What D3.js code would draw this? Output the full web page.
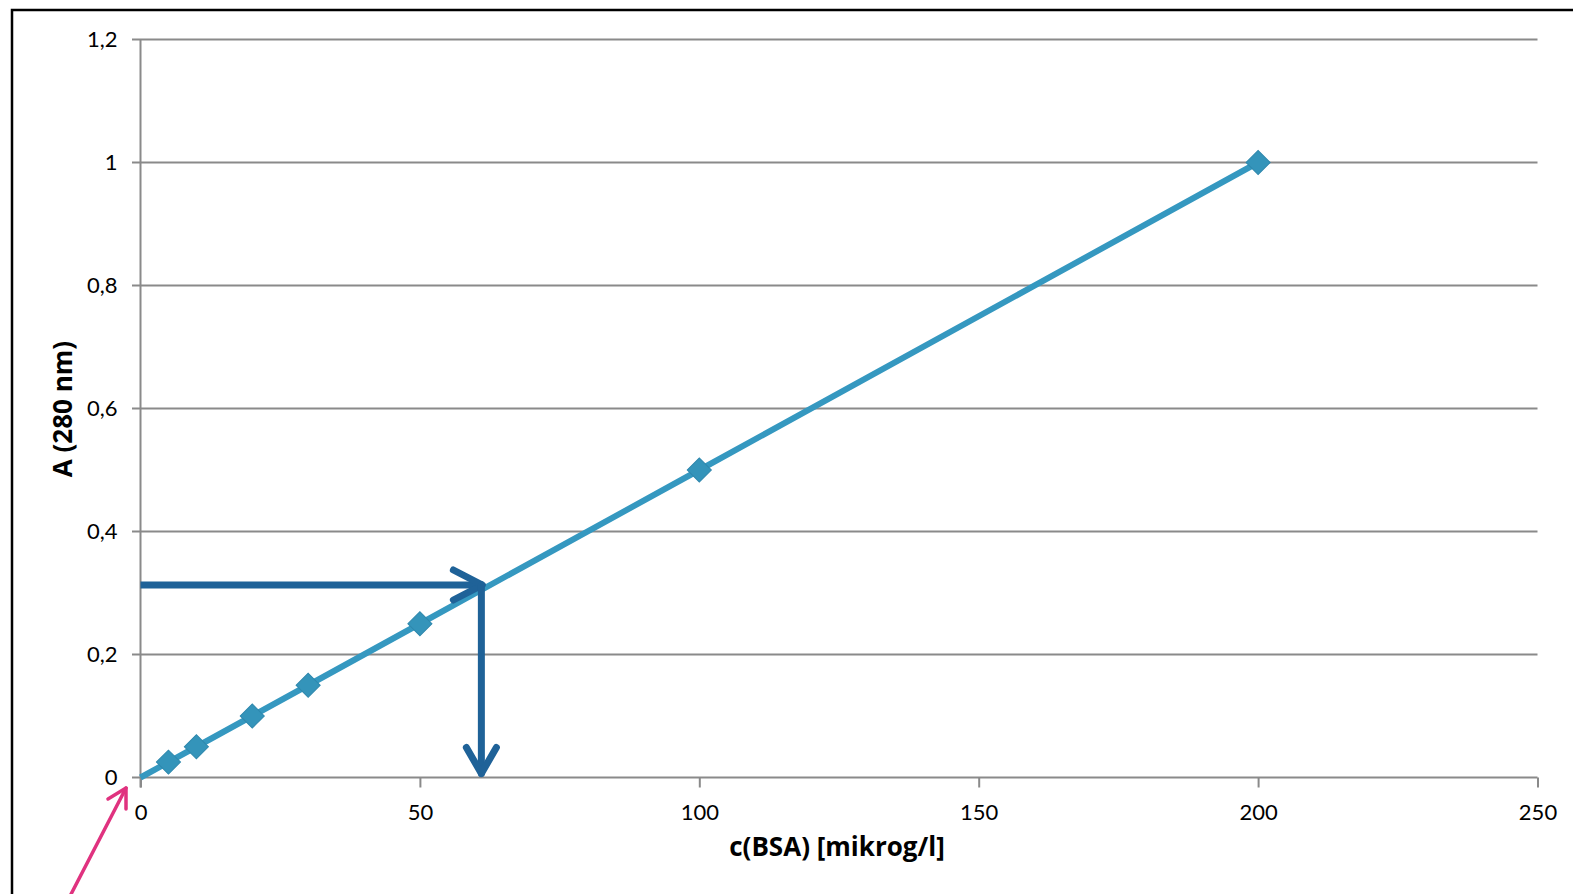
<!DOCTYPE html>
<html><head><meta charset="utf-8">
<script src="https://cdn.jsdelivr.net/npm/d3@7"></script>
<style>
html,body{margin:0;padding:0;background:#fff;overflow:hidden}
svg{display:block}
</style></head>
<body>
<svg id="chart" width="1573" height="894"></svg>
<script>
// Data
const concentrations = [0, 5, 10, 20, 30, 50, 100, 200];
const absorbances = [0, 0.025, 0.05, 0.1, 0.15, 0.25, 0.5, 1.0];
const xTicks = [0, 50, 100, 150, 200, 250];
const yTicks = [0, 0.2, 0.4, 0.6, 0.8, 1.0, 1.2];
const yTickLabels = ["0", "0,2", "0,4", "0,6", "0,8", "1", "1,2"];
const readAbsorbance = [0.313];
const readConcentration = [61];

const svg = d3.select("#chart");
const x = d3.scaleLinear().domain([0, 250]).range([140.5, 1537.5]);
const y = d3.scaleLinear().domain([0, 1.2]).range([777.5, 39.5]);

const grey = "#8a8a8a";
const tickFont = "Lato, 'Open Sans', sans-serif";
const titleFont = "'Open Sans', Lato, sans-serif";

// Frame
svg.append("rect").attr("x", 12).attr("y", 10).attr("width", 1600).attr("height", 900)
  .attr("fill", "none").attr("stroke", "#000").attr("stroke-width", 2.5);

// Gridlines (y)
svg.append("g").selectAll("line").data(yTicks).join("line")
  .attr("x1", 132).attr("x2", x(250))
  .attr("y1", d => y(d)).attr("y2", d => y(d))
  .attr("stroke", grey).attr("stroke-width", 2);

// Y axis line
svg.append("line").attr("x1", x(0)).attr("x2", x(0)).attr("y1", y(1.2)).attr("y2", y(0) + 10)
  .attr("stroke", grey).attr("stroke-width", 2);

// X axis ticks
const xAxis = d3.axisBottom(x).tickValues(xTicks).tickSize(10).tickSizeOuter(0).tickFormat(d3.format("d"));
const gx = svg.append("g").attr("transform", `translate(0,${y(0)})`).call(xAxis);
gx.select(".domain").remove();
gx.selectAll(".tick line").attr("stroke", grey).attr("stroke-width", 2);
gx.selectAll(".tick text").attr("fill", "#000").attr("font-family", tickFont)
  .attr("font-size", 22).attr("dy", null).attr("y", 42);

// Y axis labels
const yAxis = d3.axisLeft(y).tickValues(yTicks).tickSize(0).tickFormat((d, i) => yTickLabels[i]);
const gy = svg.append("g").attr("transform", `translate(${x(0)},0)`).call(yAxis);
gy.select(".domain").remove();
gy.selectAll(".tick text").attr("fill", "#000").attr("font-family", tickFont)
  .attr("font-size", 22).attr("x", -23).attr("dy", "0.32em");

// Series line
const lineColor = "#3598c0";
svg.append("path").datum(concentrations.map((c, i) => [c, absorbances[i]]))
  .attr("d", d3.line().x(d => x(d[0])).y(d => y(d[1])))
  .attr("fill", "none").attr("stroke", lineColor).attr("stroke-width", 6).attr("stroke-linejoin", "round");

// Markers (diamonds)
svg.append("g").selectAll("path").data(concentrations.map((c, i) => [c, absorbances[i]]).filter(d => d[0] > 0))
  .join("path")
  .attr("d", d3.symbol().type(d3.symbolSquare).size(290))
  .attr("transform", d => `translate(${x(d[0])},${y(d[1])}) rotate(45)`)
  .attr("fill", "#3494ba").attr("stroke", "#2f88ad").attr("stroke-width", 1);

// Reading arrows
const arrowColor = "#1f6298";
const ax = x(readConcentration[0]), ay = y(readAbsorbance[0]);
const ag = svg.append("g").attr("fill", "none").attr("stroke", arrowColor).attr("stroke-width", 7)
  .attr("stroke-linecap", "round").attr("stroke-linejoin", "round");
ag.append("line").attr("x1", x(0)).attr("x2", ax + 2).attr("y1", ay).attr("y2", ay).attr("stroke-linecap", "butt");
ag.append("path").attr("d", `M${ax - 28},${ay - 15} L${ax + 1},${ay} L${ax - 28},${ay + 15}`);
ag.append("line").attr("x1", ax).attr("x2", ax).attr("y1", ay).attr("y2", y(0) - 4);
ag.append("path").attr("d", `M${ax - 15},${y(0) - 30} L${ax},${y(0) - 4} L${ax + 15},${y(0) - 30}`);

// Pink pointer arrow
const pink = "#e0327f";
const pg = svg.append("g").attr("fill", "none").attr("stroke", pink).attr("stroke-width", 3.5)
  .attr("stroke-linecap", "round").attr("stroke-linejoin", "round");
pg.append("line").attr("x1", 68).attr("y1", 900).attr("x2", 126).attr("y2", 788);
pg.append("path").attr("d", "M108,799 L126,788 L126,809");

// Axis titles
svg.append("text").attr("x", 837).attr("y", 856).attr("text-anchor", "middle")
  .attr("font-family", titleFont).attr("font-weight", "bold").attr("font-size", 26)
  .attr("fill", "#000").text("c(BSA) [mikrog/l]");
svg.append("text").attr("transform", "translate(72,409) rotate(-90)").attr("text-anchor", "middle")
  .attr("font-family", titleFont).attr("font-weight", "bold").attr("font-size", 26)
  .attr("fill", "#000").text("A (280 nm)");
</script>
</body></html>
